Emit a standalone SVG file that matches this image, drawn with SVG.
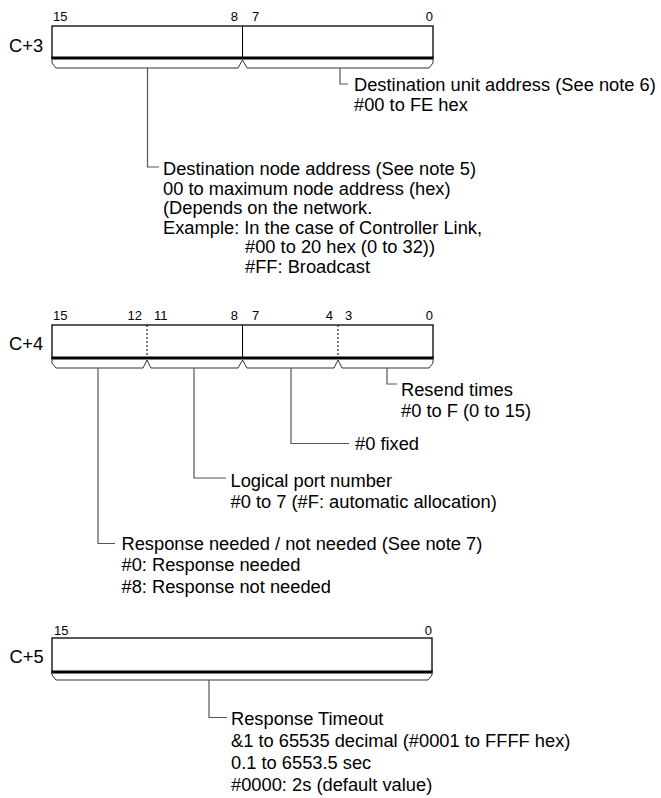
<svg xmlns="http://www.w3.org/2000/svg" width="661" height="798" viewBox="0 0 661 798">
<style>
text{font-family:"Liberation Sans",Arial,Helvetica,sans-serif;fill:#000}
.t{font-size:18.3px}
.b{font-size:13px}
.e{text-anchor:end}
.box{fill:#fff;stroke:#000;stroke-width:1.3}
.bot{stroke:#000;stroke-width:3}
.div{stroke:#000;stroke-width:1}
.dot{stroke:#000;stroke-width:1;stroke-dasharray:2 2}
.br{fill:none;stroke:#333;stroke-width:1}
.ln{fill:none;stroke:#555;stroke-width:1.2}
</style>
<rect width="661" height="798" fill="#fff"/>

<g id="reg-c3">
<text class="b" x="53" y="21">15</text>
<text class="b e" x="238" y="21">8</text>
<text class="b" x="252" y="21">7</text>
<text class="b e" x="433" y="21">0</text>
<text class="t" x="9" y="52">C+3</text>
<rect class="box" x="52" y="26" width="381" height="32"/>
<line class="div" x1="242.5" y1="26" x2="242.5" y2="58"/>
<line class="bot" x1="51.4" y1="58" x2="433.6" y2="58"/>
<path class="br" d="M52 58V63L56 68H238L242.5 60L247 68H429L433 63V58"/>
</g>

<g id="reg-c4">
<text class="b" x="53" y="320">15</text>
<text class="b e" x="142" y="320">12</text>
<text class="b" x="154" y="320">11</text>
<text class="b e" x="238" y="320">8</text>
<text class="b" x="252" y="320">7</text>
<text class="b e" x="333" y="320">4</text>
<text class="b" x="345" y="320">3</text>
<text class="b e" x="433" y="320">0</text>
<text class="t" x="9" y="350">C+4</text>
<rect class="box" x="52" y="325" width="381" height="33"/>
<line class="dot" x1="147" y1="325" x2="147" y2="358"/>
<line class="div" x1="242.5" y1="325" x2="242.5" y2="358"/>
<line class="dot" x1="338" y1="325" x2="338" y2="358"/>
<line class="bot" x1="51.4" y1="358" x2="433.6" y2="358"/>
<path class="br" d="M52 358V363L56 368H143L147 360L151 368H238L242.5 360L247 368H334L338 360L342 368H429L433 363V358"/>
</g>

<g id="reg-c5">
<text class="b" x="54" y="635">15</text>
<text class="b e" x="432" y="635">0</text>
<text class="t" x="9.5" y="663">C+5</text>
<rect class="box" x="52" y="638" width="380" height="34"/>
<line class="bot" x1="51.4" y1="672" x2="432.6" y2="672"/>
<path class="br" d="M52 672V675L56 680H428L432 675V672"/>
</g>

<g id="connectors">
<path class="ln" d="M340 68V84H348"/>
<path class="ln" d="M147.5 68V167H159"/>
<path class="ln" d="M387 368V384H397"/>
<path class="ln" d="M291 368V443.5H349"/>
<path class="ln" d="M194 368V478H226"/>
<path class="ln" d="M98 368V543.5H115"/>
<path class="ln" d="M209 680V717.5H227"/>
</g>

<g id="unit-address">
<text class="t" x="354" y="91">Destination unit address (See note 6)</text>
<text class="t" x="354" y="111">#00 to FE hex</text>
</g>

<g id="node-address">
<text class="t" x="163" y="175">Destination node address (See note 5)</text>
<text class="t" x="163" y="194.5">00 to maximum node address (hex)</text>
<text class="t" x="163" y="214">(Depends on the network.</text>
<text class="t" x="163" y="233.5">Example: In the case of Controller Link,</text>
<text class="t" x="245" y="253">#00 to 20 hex (0 to 32))</text>
<text class="t" x="245" y="272.5">#FF: Broadcast</text>
</g>

<g id="resend-times">
<text class="t" x="401" y="396">Resend times</text>
<text class="t" x="401" y="417">#0 to F (0 to 15)</text>
</g>

<g id="fixed">
<text class="t" x="355" y="449.5">#0 fixed</text>
</g>

<g id="logical-port">
<text class="t" x="230.5" y="487">Logical port number</text>
<text class="t" x="230.5" y="508">#0 to 7 (#F: automatic allocation)</text>
</g>

<g id="response-needed">
<text class="t" x="121.5" y="549.5">Response needed / not needed (See note 7)</text>
<text class="t" x="121.5" y="571">#0: Response needed</text>
<text class="t" x="121.5" y="592.5">#8: Response not needed</text>
</g>

<g id="response-timeout">
<text class="t" x="231" y="725">Response Timeout</text>
<text class="t" x="231" y="747">&amp;1 to 65535 decimal (#0001 to FFFF hex)</text>
<text class="t" x="231" y="769">0.1 to 6553.5 sec</text>
<text class="t" x="231" y="791">#0000: 2s (default value)</text>
</g>
</svg>
